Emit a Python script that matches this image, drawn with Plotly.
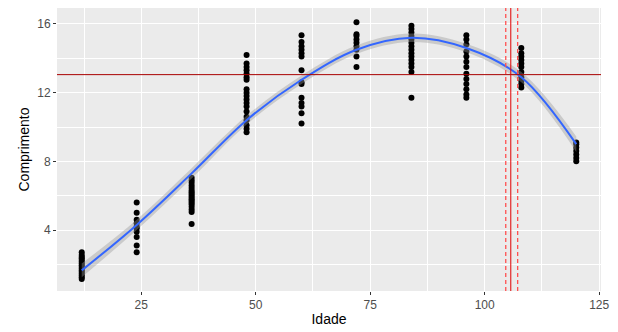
import plotly.graph_objects as go

# ---- data ----
ages = [12, 24, 36, 48, 60, 72, 84, 96, 108, 120]
len_12 = [1.15, 1.25, 1.35, 1.45, 1.55, 1.65, 1.75, 1.85, 1.95, 2.05, 2.15, 2.25, 2.35, 2.45, 2.55, 2.7]
len_24 = [2.7, 3.1, 3.6, 3.9, 4.1, 4.2, 4.4, 4.6, 5.0, 5.6]
len_36 = [4.35, 5.05, 5.2, 5.35, 5.5, 5.6, 5.7, 5.8, 5.9, 6.0, 6.1, 6.2, 6.3, 6.45, 6.6, 6.75, 6.9, 7.05]
len_48 = [9.7, 9.9, 10.1, 10.4, 10.6, 10.9, 11.2, 11.4, 11.6, 11.8, 12.0, 12.2, 12.75, 12.9, 13.1, 13.3, 13.5, 13.7, 14.2]
len_60 = [10.2, 10.8, 11.2, 11.4, 11.7, 12.5, 12.6, 13.3, 14.1, 14.3, 14.5, 14.7, 14.95, 15.35]
len_72 = [13.5, 14.1, 14.5, 14.7, 14.9, 15.1, 15.3, 15.4, 16.1]
len_84 = [11.7, 13.2, 13.5, 13.7, 13.9, 14.1, 14.3, 14.5, 14.7, 14.9, 15.1, 15.3, 15.5, 15.7, 15.9]
len_96 = [11.7, 11.9, 12.2, 12.5, 12.8, 13.1, 13.5, 13.8, 14.1, 14.4, 14.8, 15.1, 15.35]
len_108 = [12.3, 12.5, 12.7, 12.9, 13.2, 13.5, 13.7, 13.9, 14.1, 14.3, 14.6]
len_120 = [8.0, 8.2, 8.4, 8.6, 8.8, 9.0, 9.1]
groups = [len_12, len_24, len_36, len_48, len_60, len_72, len_84, len_96, len_108, len_120]

# smooth curve and its band
smooth_x = [12, 24, 36, 48, 60, 72, 84, 96, 108, 120]
smooth_y = [1.65, 4.3, 7.3, 10.4, 12.75, 14.5, 15.2, 14.6, 12.9, 9.0]
smooth_lo = [1.25, 4.0, 7.0, 10.15, 12.5, 14.25, 14.95, 14.35, 12.6, 8.55]
smooth_hi = [2.05, 4.6, 7.6, 10.65, 13.0, 14.75, 15.45, 14.85, 13.2, 9.45]

h_line = 13.05
v_line = 105.7
v_lo, v_hi = 104.6, 107.2

x_ticks = [25, 50, 75, 100, 125]
y_ticks = [4, 8, 12, 16]

xs, ys = [], []
for a, g in zip(ages, groups):
    xs += [a] * len(g)
    ys += g

fig = go.Figure()
fig.add_trace(go.Scatter(x=xs, y=ys, mode="markers",
                         marker=dict(color="black", size=6), showlegend=False, hoverinfo="skip"))
fig.add_trace(go.Scatter(x=smooth_x, y=smooth_hi, mode="lines", line=dict(width=0, shape="spline"),
                         showlegend=False, hoverinfo="skip"))
fig.add_trace(go.Scatter(x=smooth_x, y=smooth_lo, mode="lines", line=dict(width=0, shape="spline"),
                         fill="tonexty", fillcolor="rgba(153,153,153,0.4)", showlegend=False, hoverinfo="skip"))
fig.add_trace(go.Scatter(x=smooth_x, y=smooth_y, mode="lines",
                         line=dict(color="#3366FF", width=2, shape="spline"), showlegend=False, hoverinfo="skip"))

fig.add_hline(y=h_line, line=dict(color="#A80000", width=1))
fig.add_vline(x=v_line, line=dict(color="#E00000", width=1))
for v in (v_lo, v_hi):
    fig.add_vline(x=v, line=dict(color="#FF5050", width=1.3, dash="4px,3px"))

axis_common = dict(
    showgrid=True, gridcolor="white", gridwidth=1.1,
    minor=dict(showgrid=True, gridcolor="white", gridwidth=0.5),
    ticks="outside", ticklen=3, tickcolor="#333333", tickwidth=1,
    tickfont=dict(family="Liberation Sans, Arial", size=12, color="#4D4D4D"),
    zeroline=False, showline=False, automargin=False,
    title_font=dict(family="Liberation Sans, Arial", size=14, color="black"),
)

fig.update_xaxes(range=[6.6, 125.4], tickvals=x_ticks, minor_tickvals=[12.5, 37.5, 62.5, 87.5, 112.5],
                 title_text="Idade", title_standoff=2, **axis_common)
fig.update_yaxes(range=[0.45, 16.93], tickvals=y_ticks, minor_tickvals=[2, 6, 10, 14],
                 title_text="Comprimento", title_standoff=4, **axis_common)

# page body adds an 8px offset, so the figure is 8px smaller than the window
fig.update_layout(width=610, height=324, margin=dict(l=49, r=17, t=0, b=41),
                  plot_bgcolor="#EBEBEB", paper_bgcolor="white",
                  font=dict(family="Liberation Sans, Arial"))

fig.write_html("out.html")
